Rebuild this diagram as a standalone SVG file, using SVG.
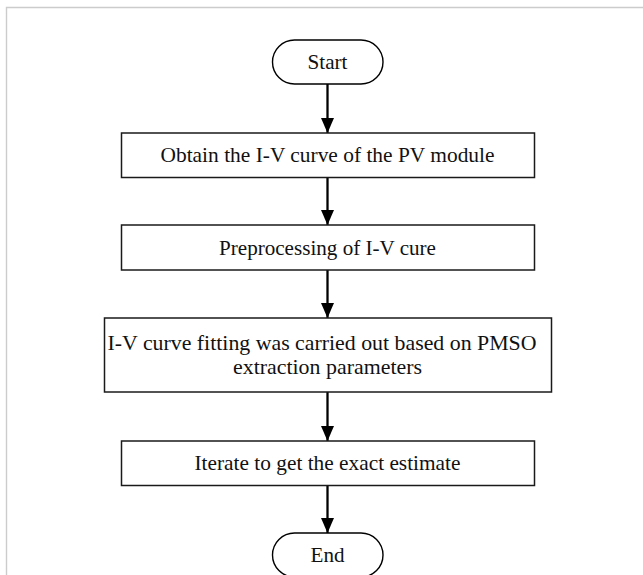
<svg xmlns="http://www.w3.org/2000/svg" width="643" height="575" viewBox="0 0 643 575">
<style>
.frame{fill:none;stroke:#cccccc;stroke-width:1.4}
.box{fill:#ffffff;stroke:#1a1a1a;stroke-width:1.5}
.term{fill:#ffffff;stroke:#000000;stroke-width:1.4}
.lbl{font-family:"Liberation Serif","Times New Roman",serif;font-size:21px;fill:#111111;text-anchor:middle}
.conn{stroke:#000000;stroke-width:2.3;fill:none}
</style>
<defs>
<marker id="ah" markerUnits="userSpaceOnUse" markerWidth="15" markerHeight="13" refX="15" refY="6.5" orient="auto" viewBox="0 0 15 13">
<path d="M0,0 L15,6.5 L0,13 Z" fill="#000000"/>
</marker>
</defs>
<rect x="0" y="0" width="643" height="575" fill="#ffffff"/>
<path class="frame" d="M6.5,575 L6.5,7.5 L643,7.5"/>
<g id="connectors">
<line class="conn" x1="327.5" y1="84" x2="327.5" y2="133" marker-end="url(#ah)"/>
<line class="conn" x1="327.5" y1="177.5" x2="327.5" y2="225" marker-end="url(#ah)"/>
<line class="conn" x1="327.5" y1="270" x2="327.5" y2="318" marker-end="url(#ah)"/>
<line class="conn" x1="327.5" y1="392" x2="327.5" y2="441" marker-end="url(#ah)"/>
<line class="conn" x1="327.5" y1="485.5" x2="327.5" y2="533" marker-end="url(#ah)"/>
</g>
<g id="start">
<rect class="term" x="272.5" y="40" width="110.5" height="44" rx="22" ry="22"/>
<text class="lbl" x="327.5" y="68.5" textLength="40" lengthAdjust="spacingAndGlyphs">Start</text>
</g>
<g id="obtain">
<rect class="box" x="121.5" y="133" width="413" height="44.5"/>
<text class="lbl" x="327.5" y="162" textLength="334" lengthAdjust="spacingAndGlyphs">Obtain the I-V curve of the PV module</text>
</g>
<g id="preprocess">
<rect class="box" x="121.5" y="225" width="413" height="45"/>
<text class="lbl" x="327.5" y="254.5" textLength="217" lengthAdjust="spacingAndGlyphs">Preprocessing of I-V cure</text>
</g>
<g id="fitting">
<rect class="box" x="104.5" y="318" width="447" height="74"/>
<text class="lbl" x="322" y="349.5" textLength="429" lengthAdjust="spacingAndGlyphs">I-V curve fitting was carried out based on PMSO</text>
<text class="lbl" x="327.5" y="374" textLength="189" lengthAdjust="spacingAndGlyphs">extraction parameters</text>
</g>
<g id="iterate">
<rect class="box" x="121.5" y="441" width="413" height="44.5"/>
<text class="lbl" x="327.5" y="469.5" textLength="266" lengthAdjust="spacingAndGlyphs">Iterate to get the exact estimate</text>
</g>
<g id="end">
<rect class="term" x="272.5" y="533" width="110.5" height="44" rx="22" ry="22"/>
<text class="lbl" x="327.5" y="562" textLength="34" lengthAdjust="spacingAndGlyphs">End</text>
</g>
</svg>
